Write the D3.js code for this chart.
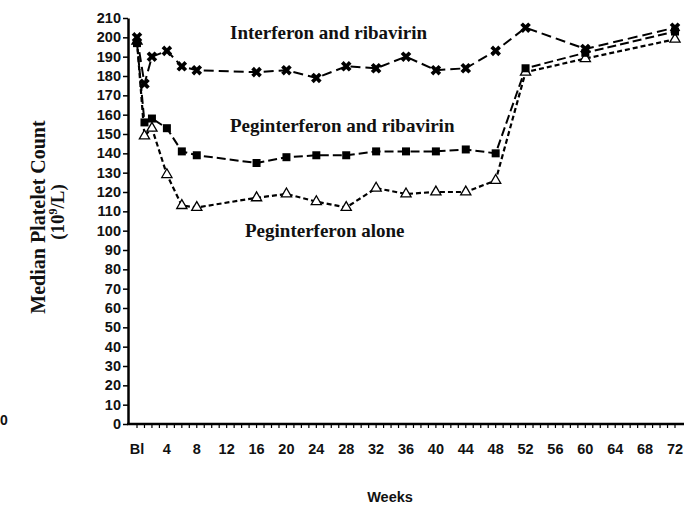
<!doctype html>
<meta charset="utf-8">
<body style="margin:0;background:#fff">

<div id="chart"></div>

<script src="https://d3js.org/d3.v7.min.js"></script>
<script>

const weeks = [0, 1, 2, 4, 6, 8, 16, 20, 24, 28, 32, 36, 40, 44, 48, 52, 60, 72]
const interferonRiba = [200, 176, 190, 193, 185, 183, 182, 183, 179, 185, 184, 190, 183, 184, 193, 205, 194, 205]
const pegRiba = [197, 156, 158, 153, 141, 139, 135, 138, 139, 139, 141, 141, 141, 142, 140, 184, 192, 203]
const pegAlone = [198, 149, 153, 129, 113, 112, 117, 119, 115, 112, 122, 119, 120, 120, 126, 182, 189, 199]
const xTicks = [0, 4, 8, 12, 16, 20, 24, 28, 32, 36, 40, 44, 48, 52, 56, 60, 64, 68, 72]
const yTicks = d3.range(0, 211, 10)

function main () {
  const width = 684
  const height = 507

  const svg = d3.select("#chart").append("svg")
    .attr("width", width)
    .attr("height", height)

  const x = d3.scaleLinear()
    .domain([0, 72])
    .range([137, 675])

  const y = d3.scaleLinear()
    .domain([0, 210])
    .range([424, 18])

  // y axis
  const yAxis = svg.append("g")
    .attr("transform", "translate(128,0)")
    .call(d3.axisLeft(y).tickValues(yTicks).tickSize(5).tickPadding(2).tickSizeOuter(0))
  yAxis.select(".domain").attr("stroke-width", 2.5)
  yAxis.selectAll(".tick line").attr("stroke-width", 1.5)
  yAxis.selectAll("text")
    .attr("font-family", "Liberation Sans, Arial, sans-serif")
    .attr("font-size", 14.5)
    .attr("font-weight", "bold")
    .attr("fill", "#111")

  // x axis: minor ticks every week
  svg.append("line")
    .attr("x1", 127).attr("x2", 684)
    .attr("y1", y(0)).attr("y2", y(0))
    .attr("stroke", "#000").attr("stroke-width", 2.5)

  svg.append("g").selectAll("line")
    .data(d3.range(0, 73))
    .enter().append("line")
    .attr("x1", d => x(d)).attr("x2", d => x(d))
    .attr("y1", y(0)).attr("y2", y(0) + 4)
    .attr("stroke", "#000").attr("stroke-width", 1.2)

  svg.append("g").selectAll("text")
    .data(xTicks)
    .enter().append("text")
    .attr("x", d => x(d))
    .attr("y", 454)
    .attr("text-anchor", "middle")
    .attr("font-family", "Liberation Sans, Arial, sans-serif")
    .attr("font-size", 14.5)
    .attr("font-weight", "bold")
    .attr("fill", "#111")
    .text(d => d === 0 ? "Bl" : d)

  const line = d3.line()
    .x((d, i) => x(weeks[i]))
    .y(d => y(d))

  svg.append("path").datum(pegAlone)
    .attr("d", line).attr("fill", "none")
    .attr("stroke", "#000").attr("stroke-width", 2.2)
    .attr("stroke-dasharray", "5,3")

  svg.append("path").datum(pegRiba)
    .attr("d", line).attr("fill", "none")
    .attr("stroke", "#000").attr("stroke-width", 2)
    .attr("stroke-dasharray", "9,4")

  svg.append("path").datum(interferonRiba)
    .attr("d", line).attr("fill", "none")
    .attr("stroke", "#000").attr("stroke-width", 2)
    .attr("stroke-dasharray", "10,5")

  // triangles
  svg.append("g").selectAll("path")
    .data(pegAlone)
    .enter().append("path")
    .attr("transform", (d, i) => "translate(" + x(weeks[i]) + "," + y(d) + ")")
    .attr("d", d3.symbol().type(d3.symbolTriangle).size(45))
    .attr("fill", "#fff").attr("stroke", "#000").attr("stroke-width", 1.3)

  // squares
  svg.append("g").selectAll("rect")
    .data(pegRiba)
    .enter().append("rect")
    .attr("x", (d, i) => x(weeks[i]) - 4)
    .attr("y", d => y(d) - 4)
    .attr("width", 8).attr("height", 8)
    .attr("fill", "#000")

  // crosses
  svg.append("g").selectAll("path")
    .data(interferonRiba)
    .enter().append("path")
    .attr("transform", (d, i) => "translate(" + x(weeks[i]) + "," + y(d) + ") rotate(45)")
    .attr("d", d3.symbol().type(d3.symbolCross).size(70))
    .attr("fill", "#000")

  // series labels
  const labels = [
    { text: "Interferon and ribavirin", x: 230, y: 39 },
    { text: "Peginterferon and ribavirin", x: 230, y: 132 },
    { text: "Peginterferon alone", x: 245, y: 237 }
  ]
  svg.append("g").selectAll("text")
    .data(labels)
    .enter().append("text")
    .attr("x", d => d.x)
    .attr("y", d => d.y)
    .attr("font-family", "Liberation Serif, Times New Roman, serif")
    .attr("font-size", 19)
    .attr("font-weight", "bold")
    .attr("fill", "#111")
    .text(d => d.text)

  // y label
  svg.append("text")
    .attr("transform", "translate(45,217) rotate(-90)")
    .attr("text-anchor", "middle")
    .attr("font-family", "Liberation Serif, Times New Roman, serif")
    .attr("font-size", 20)
    .attr("font-weight", "bold")
    .attr("fill", "#111")
    .text("Median Platelet Count")

  const yl2 = svg.append("text")
    .attr("transform", "translate(64,212) rotate(-90)")
    .attr("text-anchor", "middle")
    .attr("font-family", "Liberation Serif, Times New Roman, serif")
    .attr("font-size", 19)
    .attr("font-weight", "bold")
    .attr("fill", "#111")
  yl2.append("tspan").text("(10")
  yl2.append("tspan").attr("dy", -7).attr("font-size", 12).text("9")
  yl2.append("tspan").attr("dy", 7).text("/L)")

  svg.append("text")
    .attr("x", 390)
    .attr("y", 502)
    .attr("text-anchor", "middle")
    .attr("font-family", "Liberation Sans, Arial, sans-serif")
    .attr("font-size", 14.5)
    .attr("font-weight", "bold")
    .attr("fill", "#111")
    .text("Weeks")

  // scan remnant at the left edge
  svg.append("text")
    .attr("x", 0).attr("y", 425)
    .attr("font-family", "Liberation Sans, Arial, sans-serif")
    .attr("font-size", 14).attr("font-weight", "bold")
    .attr("fill", "#111")
    .text("0")
}

main()

</script>
</body>
